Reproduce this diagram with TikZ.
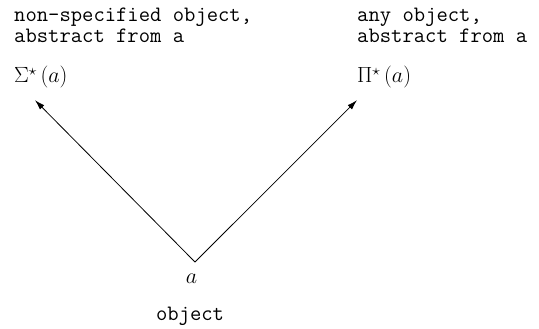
\RequirePackage{fix-cm}
\documentclass[tikz,border=0pt]{standalone}
\usepackage{fontspec}
\usetikzlibrary{arrows.meta}
\begin{document}
\begin{tikzpicture}[x=1pt,y=1pt,
  lab/.style={inner sep=0pt, align=left, font=\ttfamily\fontsize{22}{21}\selectfont},
  mth/.style={inner sep=0pt, font=\fontsize{22}{26}\selectfont},
  arr/.style={-{Latex[length=10pt,width=6pt]}, line width=0.8pt}]
\useasboundingbox (0,0) rectangle (539,-329);
\node[lab, anchor=north west] (ltext) at (14,-8) {non-specified object,\\abstract from a};
\node[lab, anchor=north west] (rtext) at (357,-8) {any object,\\abstract from a};
\node[mth, anchor=base west] (sigma) at (14,-83) {$\Sigma^{\star}\,(a)$};
\node[mth, anchor=base west] (pi) at (357,-83) {$\Pi^{\star}\,(a)$};
\node[mth, anchor=base, outer ysep=11.5pt] (a) at (191.5,-283) {$a$};
\node[lab, anchor=base] (obj) at (190,-320) {object};
\draw[arr] ([xshift=3.5pt]a.north) -- ([xshift=21pt,yshift=-11.5pt]sigma.south west);
\draw[arr] ([xshift=3.5pt]a.north) -- ([yshift=-11.5pt]pi.south west);
\end{tikzpicture}
\end{document}
